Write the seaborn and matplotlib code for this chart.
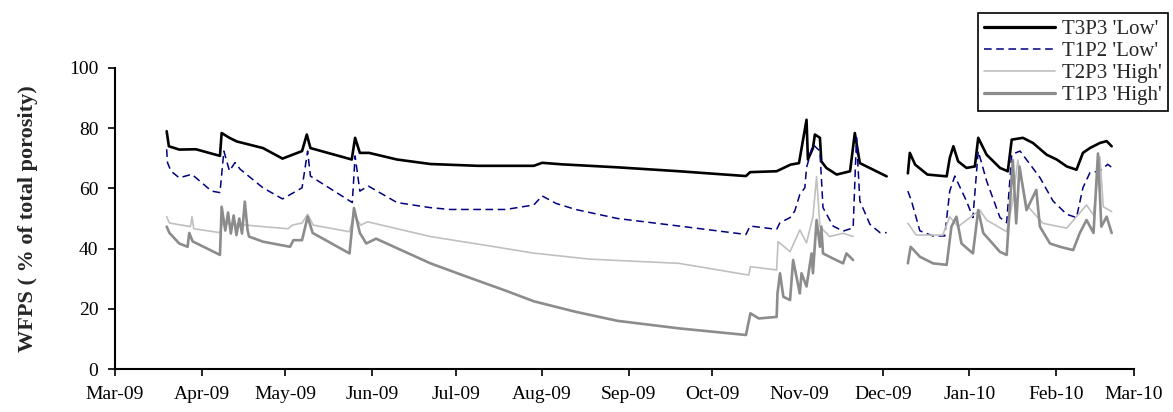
import numpy as np
import pandas as pd
import matplotlib
matplotlib.use('Agg')
import matplotlib.pyplot as plt
from matplotlib.lines import Line2D
import seaborn as sns

start = pd.Timestamp('2009-03-01')
series_names = ["T3P3 'Low'", "T1P2 'Low'", "T2P3 'High'", "T1P3 'High'"]
month_labels = ['Mar-09', 'Apr-09', 'May-09', 'Jun-09', 'Jul-09', 'Aug-09', 'Sep-09',
                'Oct-09', 'Nov-09', 'Dec-09', 'Jan-10', 'Feb-10', 'Mar-10']
y_ticks = [0, 20, 40, 60, 80, 100]

# days since 1 Mar 2009; nan marks the logger gap in early December
t3p3_days = [18.5, 19.3, 23, 29, 37.6, 38.2, 41, 43.6, 53, 60, 67, 68.7, 70, 84.8, 86, 87.7,
             91, 101, 113, 130, 150, 153, 160, 180, 202, 226, 227.5, 237, 242, 245, 247.7,
             248.2, 250, 250.7, 252.5, 253, 254.8, 258.5, 263.3, 265, 266.8, 276.4, 280,
             284, 284.7, 286.6, 291, 297.9, 299, 300.3, 302, 305, 308, 309.2, 312.2, 317,
             319.8, 321.2, 325.2, 328.8, 333.7, 337.3, 340.9, 344.4, 346.7, 349.2, 352.8,
             355.2, 357]
t3p3_wfps = [79.0, 74.0, 72.9, 73.0, 70.8, 78.4, 76.8, 75.6, 73.4, 69.9, 72.4, 77.9, 73.4,
             69.6, 76.8, 71.8, 71.8, 69.6, 68.1, 67.5, 67.5, 68.5, 68.0, 67.0, 65.7, 64.1,
             65.4, 65.7, 67.9, 68.4, 82.8, 69.6, 73.4, 77.9, 76.8, 69.0, 66.8, 64.6, 65.7,
             78.4, 68.4, 64.0, np.nan,
             65.0, 71.8, 67.9, 64.6, 64.0, 70.1, 74.0, 69.0, 66.8, 67.3, 76.8, 71.2, 66.8,
             65.7, 76.2, 76.8, 75.1, 71.2, 69.6, 67.3, 66.2, 71.8, 73.4, 75.1, 75.7, 74.0]

t1p2_days = [18.5, 18.8, 20, 23, 27.5, 34.6, 37.6, 39, 41, 43, 44.8, 53, 60, 67, 69, 70, 85,
             86, 87.7, 90.7, 101, 113, 120, 140, 150, 153, 158, 165, 180, 202, 226, 227.5,
             237, 238.2, 241.8, 243.5, 245.3, 247.1, 247.7, 250, 252.5, 253.6, 257.2,
             260.8, 264.4, 265.6, 266.8, 270.4, 274, 276.4, 280,
             284, 285.3, 288.3, 293, 297.2, 299, 300.8, 305, 307.3, 309.2, 312.2, 317,
             319.4, 321.2, 324.2, 331.3, 336, 340.9, 344.4, 346.7, 349.2, 352.8, 355.6, 357]
t1p2_wfps = [73.0, 68.6, 65.8, 63.5, 64.7, 59.1, 58.6, 72.4, 65.8, 68.6, 66.4, 60.2, 56.5,
             60.2, 72.4, 64.1, 55.3, 70.8, 59.1, 60.8, 55.3, 53.6, 53.0, 53.0, 54.5, 57.5,
             55.0, 53.0, 50.0, 47.5, 44.7, 47.5, 46.4, 48.6, 50.3, 52.5, 58.0, 60.2, 66.9,
             74.6, 72.4, 53.6, 47.5, 45.8, 46.9, 76.9, 55.8, 48.1, 45.3, 45.3, np.nan,
             59.1, 55.8, 45.9, 44.2, 44.2, 59.1, 64.1, 55.8, 50.3, 72.4, 62.5, 50.3, 48.6,
             71.3, 72.4, 63.6, 55.8, 51.4, 50.3, 60.2, 65.2, 65.8, 68.0, 67.0]

t2p3_days = [18.5, 19.5, 27, 27.6, 28.2, 37.6, 38.5, 53, 62, 63.5, 67, 69, 71, 84, 85.5, 88,
             90.5, 113, 130, 150, 170, 202, 227, 227.6, 237, 237.5, 241.8, 245.3, 247.7,
             250, 251.3, 252.5, 256, 260.8, 264.4, 280,
             284, 287, 296.5, 299, 302, 309.8, 312.2, 319.4, 321.6, 323.4, 326.5, 332.4,
             340.9, 348, 350.5, 352.8, 354, 357]
t2p3_wfps = [50.6, 48.5, 47.3, 50.6, 46.6, 45.3, 48.5, 47.3, 46.6, 47.8, 48.5, 51.4, 47.8,
             45.6, 51.4, 47.8, 48.9, 44.0, 41.5, 38.5, 36.5, 35.1, 31.2, 34.0, 32.9, 42.3,
             39.0, 46.2, 41.9, 50.6, 63.9, 47.3, 44.0, 45.1, 44.0, np.nan,
             48.4, 44.5, 44.5, 50.6, 47.3, 52.8, 49.5, 45.6, 56.1, 69.4, 54.5, 48.4, 46.8,
             54.5, 51.1, 70.5, 53.9, 52.3]

t1p3_days = [18.5, 19.5, 23, 26, 26.6, 27.8, 37.6, 38.2, 39.5, 40.5, 41.5, 42.5, 43.5, 44.5,
             45.5, 46.5, 47.5, 48, 53, 62.7, 63.9, 67, 69, 70.8, 84, 85.6, 87.7, 90, 93.5,
             113, 125, 140, 150, 165, 180, 202, 226, 227.6, 230.6, 237, 237.3, 238.2, 239.4,
             241.8, 242.9, 245.3, 245.9, 247.7, 249.5, 250, 251.3, 252.5, 253, 253.6, 257.2,
             260.8, 262, 264.4, 280,
             284, 285, 288.3, 293, 297.9, 299.6, 301.4, 303.2, 307.3, 309.2, 311, 317, 319.4,
             321.6, 322.8, 324, 326.5, 330, 331.3, 334.9, 338.5, 343.2, 345.6, 348, 350.5,
             352.1, 353.3, 355.2, 357]
t1p3_wfps = [47.3, 45.2, 41.7, 40.6, 45.2, 42.4, 37.9, 53.9, 46.0, 52.0, 45.0, 51.0, 44.5,
             50.0, 45.0, 55.6, 46.0, 44.0, 42.3, 40.6, 42.8, 42.8, 50.6, 45.2, 38.4, 53.5,
             45.2, 41.7, 43.3, 35.1, 31.0, 26.0, 22.5, 19.0, 16.0, 13.5, 11.3, 18.5, 16.8,
             17.3, 25.1, 31.8, 24.0, 22.9, 36.2, 25.1, 31.8, 27.4, 38.4, 31.8, 49.5, 40.6,
             47.3, 38.4, 36.7, 35.1, 38.4, 36.2, np.nan,
             35.1, 40.6, 37.3, 35.1, 34.6, 47.3, 50.6, 41.7, 38.4, 52.8, 45.2, 38.9, 37.9,
             69.4, 48.4, 67.2, 52.8, 59.5, 47.3, 41.7, 40.6, 39.5, 45.2, 49.5, 45.2, 71.6,
             47.3, 50.6, 45.2]

styles = [
    dict(color='black', linewidth=1.9, linestyle='-'),
    dict(color='#000080', linewidth=1.1, linestyle=(0, (5, 3))),
    dict(color='#c0c0c0', linewidth=1.2, linestyle='-'),
    dict(color='#8c8c8c', linewidth=1.9, linestyle='-'),
]


def to_frame(days, vals):
    df = pd.DataFrame({'day': days, 'wfps': vals})
    df['seg'] = df['wfps'].isna().cumsum()
    df = df.dropna()
    df['date'] = start + pd.to_timedelta(df['day'], unit='D')
    return df


sns.set_style('ticks')
plt.rcParams['font.family'] = ['Liberation Serif', 'DejaVu Serif']

fig = plt.figure(figsize=(11.73, 4.12), dpi=100)
ax = fig.add_axes([115 / 1173, 1 - 369 / 412, (1134 - 115) / 1173, (369 - 68) / 412])

data = [(t3p3_days, t3p3_wfps), (t1p2_days, t1p2_wfps),
        (t2p3_days, t2p3_wfps), (t1p3_days, t1p3_wfps)]
for (days, vals), st in zip(data, styles):
    df = to_frame(days, vals)
    sns.lineplot(data=df, x='date', y='wfps', units='seg', estimator=None,
                 ax=ax, legend=False, **st)

ticks = pd.date_range('2009-03-01', '2010-03-01', freq='MS')
ax.set_xticks(ticks)
ax.set_xticklabels(month_labels, fontsize=14)
ax.set_xlim(ticks[0], ticks[-1])
ax.set_ylim(0, 100)
ax.set_yticks(y_ticks)
ax.set_yticklabels([str(v) for v in y_ticks], fontsize=14)
ax.tick_params(direction='out', length=5, width=1.2, colors='black', pad=7)
ax.xaxis.get_major_ticks()[8].tick1line.set_visible(False)
ax.set_xlabel('')
ax.set_ylabel('WFPS ( % of total porosity)', fontsize=16, fontweight='bold', labelpad=22)
sns.despine(ax=ax)
for s in ['left', 'bottom']:
    ax.spines[s].set_linewidth(1.5)
    ax.spines[s].set_color('black')

handles = [Line2D([], [], **st) for st in styles]
handles[0].set_linewidth(2.3)
handles[3].set_linewidth(2.3)
leg = fig.legend(handles, series_names, loc='upper right',
                 bbox_to_anchor=(1168 / 1173, 1 - 13 / 412), fontsize=15,
                 frameon=True, fancybox=False, edgecolor='black', framealpha=1,
                 handlelength=3.4, labelspacing=0.12, borderpad=0.3, handletextpad=0.35,
                 borderaxespad=0)
leg.get_frame().set_linewidth(1.2)

fig.savefig('out.png', dpi=100)
